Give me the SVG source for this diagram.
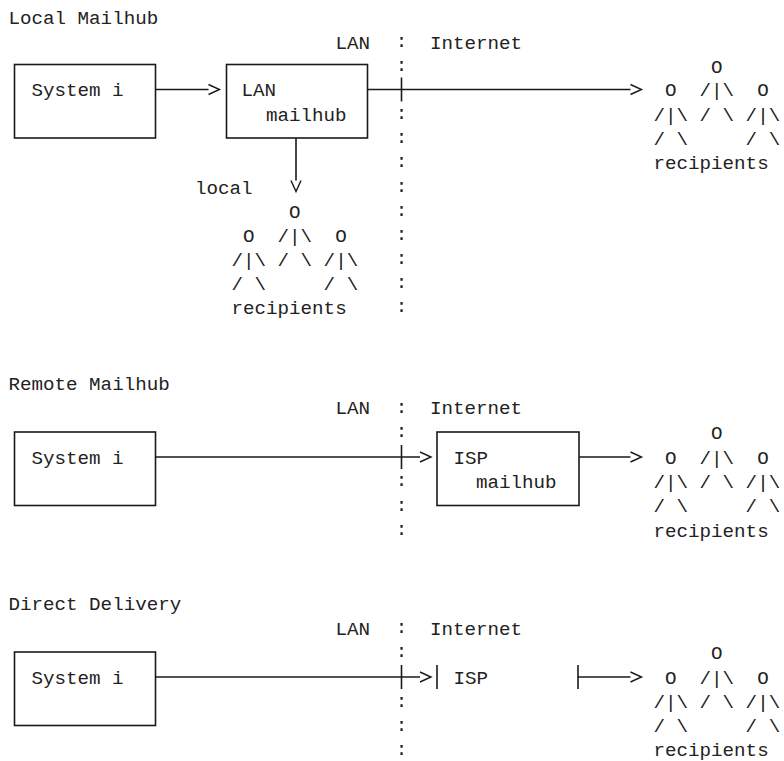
<svg xmlns="http://www.w3.org/2000/svg" width="784" height="761" viewBox="0 0 784 761">
<style>
  text { font-family: "Liberation Mono", "Courier New", monospace; font-size: 19.2px; fill: #222222; white-space: pre; }
  .col { text-anchor: middle; }
  .box { fill: none; stroke: #1a1a1a; stroke-width: 1.6; }
  .ln { fill: none; stroke: #1a1a1a; stroke-width: 1.6; }
  .arr { fill: none; stroke: #1a1a1a; stroke-width: 1.6; marker-end: url(#chev); }
</style>
<defs>
  <marker id="chev" markerUnits="userSpaceOnUse" markerWidth="14" markerHeight="14" refX="0" refY="5.5" orient="auto" overflow="visible">
    <path d="M0,0.5 L11,5.5 L0,10.5" fill="none" stroke="#1a1a1a" stroke-width="1.4"/>
  </marker>
</defs>
<rect width="784" height="761" fill="#ffffff"/>

<!-- Section 1: Local Mailhub -->
<g id="title-local"><text x="8.5" y="24">Local Mailhub</text></g>
<g id="zone-labels-1">
  <text x="335.5" y="48.5">LAN</text>
  <text x="430" y="48.5">Internet</text>
</g>
<g id="boundary-1">
  <text class="col" x="401.5" y="47">:</text>
  <text class="col" x="401.5" y="71">:</text>
  <text class="col" x="401.5" y="119">:</text>
  <text class="col" x="401.5" y="143">:</text>
  <text class="col" x="401.5" y="167">:</text>
  <text class="col" x="401.5" y="192">:</text>
  <text class="col" x="401.5" y="216">:</text>
  <text class="col" x="401.5" y="240">:</text>
  <text class="col" x="401.5" y="264">:</text>
  <text class="col" x="401.5" y="288">:</text>
  <text class="col" x="401.5" y="312">:</text>
</g>
<g id="system-i-1">
  <rect class="box" x="14.5" y="64.5" width="141" height="73.5"/>
  <text x="31.5" y="96">System i</text>
</g>
<g id="lan-mailhub">
  <rect class="box" x="226.5" y="64.5" width="141" height="73.5"/>
  <text x="241.5" y="96">LAN</text>
  <text x="266" y="120.5">mailhub</text>
</g>
<g id="recipients-internet-1">
  <text x="653.5" y="72.5">     O</text>
  <text x="653.5" y="96"> O  /|\  O</text>
  <text x="653.5" y="120.5">/|\ / \ /|\</text>
  <text x="653.5" y="144.5">/ \     / \</text>
  <text x="653.5" y="168.5">recipients</text>
</g>
<g id="recipients-local">
  <text x="195" y="193.5">local</text>
  <text x="231.5" y="217.5">     O</text>
  <text x="231.5" y="241.5"> O  /|\  O</text>
  <text x="231.5" y="265.5">/|\ / \ /|\</text>
  <text x="231.5" y="289.5">/ \     / \</text>
  <text x="231.5" y="313.5">recipients</text>
</g>

<!-- Section 2: Remote Mailhub -->
<g id="title-remote"><text x="8.5" y="389.5">Remote Mailhub</text></g>
<g id="zone-labels-2">
  <text x="335.5" y="414">LAN</text>
  <text x="430" y="414">Internet</text>
</g>
<g id="boundary-2">
  <text class="col" x="401.5" y="412.5">:</text>
  <text class="col" x="401.5" y="437">:</text>
  <text class="col" x="401.5" y="486">:</text>
  <text class="col" x="401.5" y="510.5">:</text>
  <text class="col" x="401.5" y="535">:</text>
</g>
<g id="system-i-2">
  <rect class="box" x="14.5" y="432" width="141" height="73.5"/>
  <text x="31.5" y="463.5">System i</text>
</g>
<g id="isp-mailhub">
  <rect class="box" x="437" y="432" width="142" height="73.5"/>
  <text x="453.5" y="463.5">ISP</text>
  <text x="476" y="487.5">mailhub</text>
</g>
<g id="recipients-internet-2">
  <text x="653.5" y="438.5">     O</text>
  <text x="653.5" y="463.5"> O  /|\  O</text>
  <text x="653.5" y="487.5">/|\ / \ /|\</text>
  <text x="653.5" y="512">/ \     / \</text>
  <text x="653.5" y="536.5">recipients</text>
</g>

<!-- Section 3: Direct Delivery -->
<g id="title-direct"><text x="8.5" y="609.5">Direct Delivery</text></g>
<g id="zone-labels-3">
  <text x="335.5" y="634.5">LAN</text>
  <text x="430" y="634.5">Internet</text>
</g>
<g id="boundary-3">
  <text class="col" x="401.5" y="633">:</text>
  <text class="col" x="401.5" y="657">:</text>
  <text class="col" x="401.5" y="707">:</text>
  <text class="col" x="401.5" y="731">:</text>
  <text class="col" x="401.5" y="755">:</text>
</g>
<g id="system-i-3">
  <rect class="box" x="14.5" y="652" width="141" height="73.5"/>
  <text x="31.5" y="683.5">System i</text>
</g>
<g id="isp-direct">
  <line class="ln" x1="437" y1="665" x2="437" y2="689"/>
  <line class="ln" x1="578" y1="665" x2="578" y2="689"/>
  <text x="453.5" y="683.5">ISP</text>
</g>
<g id="recipients-internet-3">
  <text x="653.5" y="658.5">     O</text>
  <text x="653.5" y="683.5"> O  /|\  O</text>
  <text x="653.5" y="708">/|\ / \ /|\</text>
  <text x="653.5" y="732">/ \     / \</text>
  <text x="653.5" y="755.5">recipients</text>
</g>

<g id="connectors">
  <!-- section 1 -->
  <line class="arr" x1="155.5" y1="89.5" x2="208.5" y2="89.5"/>
  <line class="arr" x1="367.5" y1="89.5" x2="630.5" y2="89.5"/>
  <line class="ln" x1="401.5" y1="77.5" x2="401.5" y2="101.5"/>
  <line class="arr" x1="296" y1="138" x2="296" y2="180.5"/>
  <!-- section 2 -->
  <line class="arr" x1="155.5" y1="457" x2="420" y2="457"/>
  <line class="ln" x1="401.5" y1="445" x2="401.5" y2="469"/>
  <line class="arr" x1="579" y1="457" x2="630.5" y2="457"/>
  <!-- section 3 -->
  <line class="arr" x1="155.5" y1="677" x2="420" y2="677"/>
  <line class="ln" x1="401.5" y1="665" x2="401.5" y2="689"/>
  <line class="arr" x1="578" y1="677" x2="630.5" y2="677"/>
</g>
</svg>
